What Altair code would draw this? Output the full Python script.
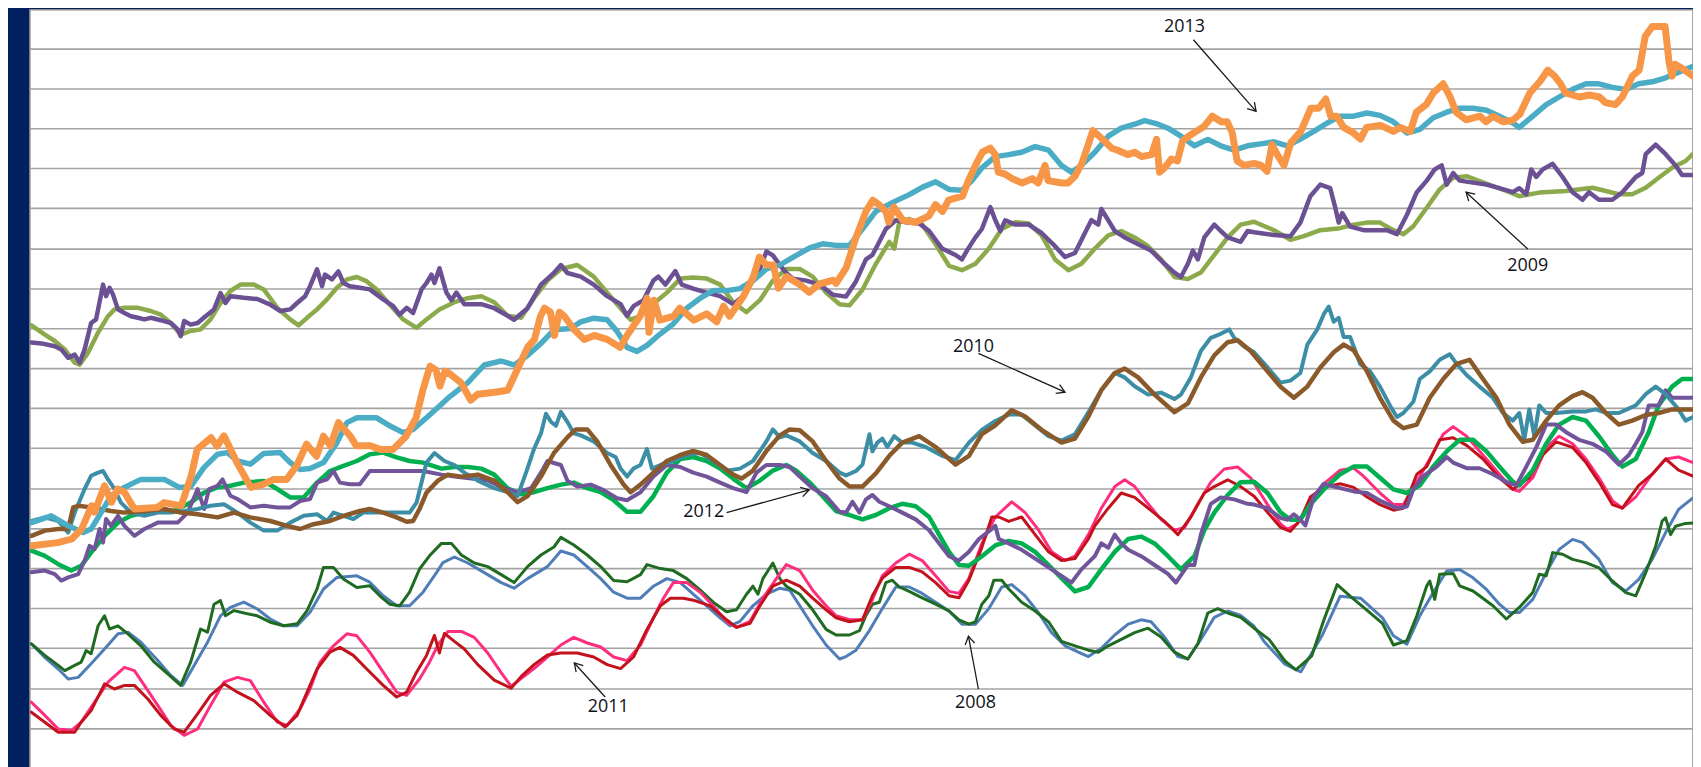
import math
import altair as alt
import pandas as pd

# ---- series data: (day, value) pairs ----
s2013_actual = [(0.4,65.6),(5.6,66.4),(8.4,67.3),(10.4,69.8),(12.4,75.6),(13,74),(15,80.6),(16.4,76.5),(17.6,79.8),(19,79),(21,74.8),(25.6,75.2),(27,76.4),(30.4,75.6),(32.4,83),(33.6,89.7),(36.4,92.6),(37.6,90.5),(39,93.1),(41.6,86.4),(44.4,80.2),(47,81),(49,82.2),(51.6,82.2),(53.6,85.6),(55.6,91),(57.6,88),(59,93),(60.4,90.6),(62,96.4),(64.4,93),(65.6,90.6),(68.4,90.6),(70.4,89.7),(73,89.7),(75.6,93),(77.6,97.6),(79,104.7),(80.4,110.5),(81.6,109.5),(82.4,105.5),(83.4,109.3),(84.6,108.4),(86.6,106.4),(88.6,102),(90,103.5),(93.4,104),(96,104.5),(98,109.8),(100,115.2),(101.4,117.2),(102.6,123),(103.4,125),(104.6,124),(105.4,118.2),(106.4,124),(107.4,123),(109.4,119.6),(111.4,117.2),(113.4,118.2),(116,117.2),(118.6,115.2),(120,118.2),(122.6,123),(124,127.5),(124.4,119),(125.4,127),(126.6,122),(129.4,123),(130.6,125),(133.4,122),(136,123.6),(138,121.6),(139.4,125.5),(140.6,123),(143.4,128),(145.4,132.9),(146.6,137.8),(148,135.8),(149.4,135.8),(150.4,130),(152,132.9),(154.6,131),(156.6,129),(158.6,131),(161.4,132),(162,131.2),(164,135),(166,142.7),(168,149.2),(169.4,152),(170.6,150.9),(172,149.2),(172.6,146.5),(173.6,150.3),(175.4,147),(178,146.5),(180.6,148),(182,150.9),(183.4,149.2),(184.6,152),(187.4,153),(188.6,156.9),(190,160.7),(191.4,164),(193,165),(194,163.4),(194.6,159),(196,158.5),(197.4,157.4),(199.4,156.3),(201.4,157.4),(202.6,156.3),(204,160.7),(204.6,156.9),(207.4,156.3),(208.6,156.3),(210,158),(211.4,161.2),(212.6,165.6),(213.6,169.4),(214.6,168.3),(216,166.7),(217.4,165),(218.6,164.5),(220.6,163.4),(222,164),(223.4,162.9),(225.4,163.4),(226.4,167.2),(227,159),(228,160.1),(229.4,162.3),(230.6,161.8),(231.6,166.7),(232.6,167.8),(234.6,169.4),(236,170.5),(237.6,173),(239.4,171.6),(240.6,171.6),(241.6,168.9),(242.6,161.8),(244,160.7),(246,161.2),(247.4,160.7),(248.6,159.2),(249.6,165.9),(250.6,163.5),(252,160.7),(253.4,166.4),(255.4,169.2),(257.4,175),(259,175),(260.4,177.3),(261.4,173),(262.6,173),(264,170.2),(266,168.8),(267.4,167.3),(268.6,170.2),(271.4,170.7),(274,169.2),(275.4,170.2),(277.4,169.2),(278.6,174),(280.6,175.9),(282,178.8),(284,181.1),(285.4,177.8),(286.6,174),(288.6,172.1),(291.4,173),(292.6,171.6),(294,173),(296,171.6),(298,172),(299.4,173.5),(301.4,178.8),(303.4,181.6),(305,184.5),(306.4,183),(307.6,181.1),(308.6,178.8),(311.4,177.8),(313.4,178.3),(315.4,177.8),(316.6,176.4),(318.6,175.9),(320,177.8),(322,183),(323.4,184.5),(324.6,193),(326,195.4),(328.6,195.4),(329.4,186.4),(330,183),(330.6,186),(332,185),(334.2,183)]

s2013_avg = [(0.3,71.4),(4.3,73.1),(7.7,70.6),(10.7,68.9),(12.3,69.8),(14.3,73.9),(16.3,78.1),(19,80.2),(22.3,82.2),(27,82.2),(30,80.2),(32.3,80.4),(35,85.2),(37.7,88.5),(39.7,88.9),(41.7,86.8),(44.3,86),(47,88.7),(50.3,88.9),(52.3,86.4),(54.3,84.7),(56.3,84.9),(59,86.4),(61.7,91.4),(63.7,96.4),(65.7,97.6),(69.7,97.6),(72.3,95.6),(75,93.9),(77,94.7),(79.7,97.6),(82.7,101),(84,102.5),(88,106.4),(91.3,110.8),(94.7,111.8),(97.3,110.8),(100,113.2),(102.7,116.2),(105.3,119.6),(108.7,119.9),(110.7,121.6),(113.3,122.5),(116,122.1),(118,119.2),(120,115.2),(122,114.2),(124,115.7),(126.7,118.6),(129.3,121.1),(132,125),(134.7,127.5),(137.3,129.4),(140,129.4),(142.7,129.9),(145.3,131.9),(148,134.8),(150.7,135.8),(153.3,137.7),(156.7,140.1),(159.3,141.1),(162,140.7),(164.7,140.7),(167.3,144.8),(170,149.2),(173.3,151.4),(176.7,153.4),(179.3,155.2),(182,156.6),(184.7,154.7),(187.3,154.5),(189.3,156.9),(191.3,160.1),(194,162.9),(196.7,163.4),(199.3,164),(202,165.4),(204.7,164.5),(207.3,160.7),(209.3,159),(211.3,160.7),(214,164),(216.7,168),(219.3,170),(222,171),(224,171.9),(226.7,171),(228.7,170),(231.3,168),(234,165.6),(236.7,167.2),(239.3,165.6),(242,164.5),(244.7,165.6),(248,166.2),(250,166.6),(252.7,165.6),(255.3,167.3),(258,169.2),(260.7,171.3),(263.3,173),(266,173),(268.7,173.8),(271.3,173.2),(274,171.6),(276.7,168.8),(279.3,169.7),(282,172.6),(284.7,174),(287.3,175),(290,175),(292.7,174.5),(295.3,173),(298,171.3),(299.3,170.2),(302,173),(304.7,175.9),(307.3,177.8),(310,179.7),(312.7,181.1),(315.3,181.1),(318,180.2),(320.7,179.7),(323.3,181.1),(326,181.6),(328.7,182.6),(331.3,184),(334.2,185.5)]

s2009_actual = [(0.3,116.4),(2.3,116.2),(5,115.5),(6.3,114.7),(7.7,112.6),(9,113.4),(10,111.4),(11,114.7),(12.3,121.3),(13.3,122.2),(14.7,130.9),(15.3,128),(16,130.1),(16.7,128.4),(17.7,124.7),(19,123.8),(20.3,123),(21.7,122.6),(23,122.2),(24.3,122.6),(26.3,122),(28.3,121.3),(29.7,119.7),(30.3,118),(31,121.8),(32.3,120.9),(33.7,121.3),(35.3,123),(37,124.7),(38.3,128.8),(39.3,126.3),(40.3,128),(43,127.6),(45.7,127.3),(48.3,125.9),(50.3,124.3),(52.3,124.7),(53.7,126.3),(55.3,128),(56.3,130.5),(57.7,134.7),(58.7,130.5),(59.3,133.4),(60.7,132.2),(62,134.2),(63,131.3),(64.3,130.5),(66.3,130.1),(68.3,129.7),(71,127.2),(73,125.5),(74.3,123.4),(75.7,125.1),(77,123.8),(78.7,129.7),(79.7,131.3),(80.7,133.4),(81.3,131.3),(82.3,135),(83.7,128.9),(84.7,127),(85.7,128.9),(87.3,126),(90.7,126),(93.3,125),(96,123.1),(97.3,122.1),(100,125),(102.7,130.9),(105.3,133.8),(106.7,135.8),(108,133.8),(110.7,132.9),(113.3,130.9),(116,128),(118.7,126),(120,123.1),(121.3,125.5),(123.3,127),(125.3,131.9),(126.3,132.9),(127.7,130.9),(129.7,134.3),(131,130.9),(133.3,129.9),(136,128.9),(138.7,128),(141.3,126),(143.3,128),(145.3,131.9),(146.7,134.8),(148,139.2),(149.3,138.2),(150.7,135.8),(152,133.8),(153.3,132.4),(156,131.9),(158.7,130.9),(161.3,128.4),(164,127.9),(166,131.7),(168,137.2),(169.3,138.3),(170.7,141.6),(172,144.8),(174,147),(176,146.5),(178.7,146.2),(180.7,144.3),(183.3,139.9),(186,138.3),(187.3,137.2),(188.3,139.4),(190,142.7),(191.3,144.8),(193,150.3),(194,147),(195,144.3),(196,147),(198,145.9),(200.7,145.9),(203.3,143.8),(206,140.5),(208,137.8),(210,138.8),(212,143.8),(213.3,147),(214.7,145.9),(215.3,149.8),(216.7,147),(218,144.3),(220,142.7),(222.7,141),(225.3,139.4),(228,136.1),(230,133.9),(231.3,132.8),(232.7,136.1),(233.7,139.4),(234.7,137.2),(236,142.7),(238,145.9),(239.3,144.3),(240.7,142.7),(243.3,141.6),(244.7,144.3),(246,144),(250,143.3),(253.3,143),(255.3,146.4),(257.3,153),(259.3,155.9),(261.3,155),(262.3,150.2),(263,146.4),(263.7,148.8),(265.3,145.4),(268,144.5),(272.7,144.5),(274.7,143.5),(276.7,148.3),(278.7,154),(280.7,156.9),(282.3,159.7),(283.7,160.7),(284.7,155.9),(286,158.8),(287.3,156.9),(290,156.4),(292.7,155.9),(295.3,155),(298,154),(299.3,155),(300.7,153.5),(301.7,159.7),(302.7,157.8),(304,159.7),(306,161.1),(308,157.8),(310,154),(312,152.1),(313.3,154),(315.3,152.1),(318,152.1),(320,154),(322.7,157.8),(324,158.8),(324.7,163.5),(326.7,165.9),(328.7,163.5),(330.7,160.7),(332,158.3),(334.2,158.3)]

s2009_avg = [(0.3,120.7),(3,118.4),(5,116.8),(7,114.7),(9,111.4),(10,110.9),(11.7,113.9),(13.7,118.9),(15.7,123),(17,124.7),(19,125.1),(21.7,125.1),(24.3,124.3),(26.3,123.4),(28.3,121.3),(30.3,118.4),(32.3,119.3),(34.3,119.7),(36.3,122.2),(38.3,126.3),(40.3,129.3),(42.3,130.9),(45,130.9),(47,129.7),(49.7,125.1),(52.3,122.2),(54,120.7),(55.7,122.6),(57.7,124.7),(59.7,127.2),(61.7,130.1),(63.7,132.2),(65.7,132.8),(67.7,131.7),(69.7,129.7),(72.3,125.9),(75,122.2),(77.7,120.1),(79.7,122.2),(82.3,124.7),(85.3,126.5),(88,127.5),(90.7,128),(93.3,126.5),(96,123.1),(98.7,122.6),(101.3,127.5),(104,131.9),(106.7,134.8),(110,135.8),(113.3,132.9),(116,128.9),(118.7,125),(120.7,122.1),(122.7,123.1),(124.7,125.5),(128,128.9),(130.7,132.4),(133.3,132.7),(136,132.4),(138.7,130.9),(141.3,126.5),(144,124),(146.7,127),(149.3,131.9),(152,134.8),(154.7,134.8),(157.3,132.9),(160,128.9),(162.7,126),(164.7,125.7),(167.3,129.6),(170,136.1),(172.7,141.6),(173.7,139.9),(174.7,146.5),(176.7,147.3),(179.3,145.9),(182,141),(184.7,135.6),(187.3,134.5),(190,136.1),(192.7,139.9),(195.3,144.8),(198,146.5),(200.7,146.2),(203.3,143.2),(206,137.2),(208.7,134.5),(211.3,136.1),(214,139.9),(216.7,143.2),(219.3,144.3),(222,142.7),(224.7,140.5),(227.3,137.2),(230,132.8),(232.7,132.3),(235.3,133.9),(238,138.3),(240.7,142.7),(243.3,145.9),(246,146.6),(250,144.5),(253.3,142.1),(256,143),(259.3,144.5),(263.3,145),(266,145.9),(268.7,146.4),(271.3,146.4),(274,144.5),(276,143.5),(278,145.5),(280.7,150.1),(283.3,154.7),(286,157.6),(288.7,158),(291.3,156.8),(294,155.5),(296.7,154.3),(299.3,153),(303.3,153.9),(308.7,154.3),(314,155.1),(319.3,153.5),(322,153.5),(324.7,155.1),(327.3,157.6),(330,160.1),(332.7,161.8),(334.2,163.6)]

s2010_actual = [(0.3,71.8),(3,72.7),(5.7,71.8),(7.7,68.9),(9,73.9),(11,79.8),(12.3,83.1),(13.7,83.9),(14.7,84.3),(15.7,82.2),(17,79.8),(18.3,76.4),(20.3,73.9),(23,73.1),(25.7,73.9),(28.3,73.9),(31,74.3),(33.7,74.8),(36.3,75.6),(39,76),(41.7,73.9),(44.3,71.4),(47,69.4),(49.7,69.4),(52.3,71.4),(55,73.1),(57.7,73.5),(59.7,71.8),(61,73.9),(63,73.1),(65,72.3),(67,73.9),(69.7,73.9),(72.3,73.9),(76.3,73.9),(77.7,76.4),(78.7,81.4),(79.7,86.4),(81.3,88.8),(83.3,86.8),(85.3,85.8),(87.3,83.9),(90,81.9),(93.3,80),(96,79),(98,78),(99.7,83.9),(101.3,89.8),(102.7,93.7),(103.7,98.6),(104.7,96.6),(105.7,95.6),(106.7,99.1),(108,96.6),(109.3,93.7),(110.7,93.2),(113.3,91.7),(116,88.8),(117.7,87.8),(118.7,84.9),(120,82.9),(121.3,84.9),(122.7,85.8),(124,89.8),(125,84.9),(126.7,85.8),(129.3,86.8),(132,88.3),(134.7,88.8),(137.3,86.8),(140,84.4),(142.7,84.9),(145.3,86.8),(148,91.7),(149.3,94.7),(150.7,92.7),(152,93.2),(154.7,91.7),(157.3,88.8),(160,86.8),(162.7,83.9),(164,83.2),(166,84.3),(167.3,85.9),(168.7,93.5),(169.3,89.2),(170.3,91.4),(171.3,92.4),(172.3,90.3),(173.7,93),(175.3,91.4),(177.3,91.4),(180,90.3),(183.3,88.1),(186,87),(188.7,91.4),(191.3,94.6),(194,96.8),(196.7,98.4),(199.3,98.4),(202,95.7),(204.7,93),(207.3,91.9),(210,93.5),(212.7,99),(215.3,104.5),(218,108.8),(220,107.7),(222,105.5),(224.7,103.4),(227.3,103.9),(230,102.3),(231.3,103.4),(233.3,107.7),(235.3,114.3),(237.3,117.6),(239.3,118.6),(241,119.7),(242,117.6),(244,115.4),(246,114),(248.7,110.2),(251.3,106.4),(253.3,106.9),(255.3,108.8),(256.7,115.9),(258.7,119.7),(260,123.5),(261,125.4),(262,121.6),(263,122.6),(264,117.8),(265.3,117.8),(267.3,111.1),(269.3,109.2),(271.3,105.4),(273.3,100.7),(274.7,97.8),(276,98.8),(278,101.6),(279.3,107.3),(281.3,109.2),(283.3,112.1),(285.3,113.5),(286.7,111.1),(288.7,108.3),(291.3,105.4),(294,102.6),(296,98.8),(298,96.9),(299.3,98.8),(300.3,92.1),(301.3,99.7),(302.3,93.1),(303.3,100.7),(304.7,98.8),(306.7,98.8),(310,99.2),(312.7,99.2),(314.7,99.7),(316.7,98.8),(319.3,98.8),(322.7,100.7),(324.7,103.5),(326.7,105.4),(328.7,103.5),(331.3,99.7),(332.7,96.9),(334.2,97.8)]

s2010_avg = [(0.3,68.1),(3,69.4),(5.7,69.8),(7.7,69.8),(8.7,75.2),(9.7,75.6),(12.3,75.2),(16.3,74.3),(19,73.9),(23,74.3),(27,74.8),(30.3,73.9),(33.7,73.5),(37.7,72.7),(41,73.9),(44.3,72.7),(48.3,71.8),(51.7,70.6),(54.3,69.8),(57,71),(60.3,71.8),(63,73.1),(66.3,74.3),(68.3,74.8),(71,73.9),(73.7,72.7),(75.7,71.6),(77,71.8),(78.3,74.8),(79.7,78.9),(82,81.9),(84,83.4),(86.7,82.9),(90,83.4),(93.3,81.9),(96,79),(98,76.5),(100,78),(102.7,82.9),(105.3,88.8),(108,92.7),(109.7,94.7),(112,94.7),(114,91.7),(116.7,85.8),(119.3,80.9),(120.7,79),(122.7,80.9),(125.3,83.9),(128,86.8),(130.7,88.3),(133.3,89.3),(136,88.3),(138.7,85.8),(141.3,83.4),(143,82.4),(145.3,84.4),(148,89.3),(150.7,93.2),(152.7,94.7),(154.7,94.5),(157.3,91.7),(160,86.8),(162.7,82.4),(164.7,80.4),(167.3,80.4),(170,83.7),(172.7,88.1),(175.3,91.4),(178.7,93),(182,90.3),(186,85.9),(188.7,88.1),(191.3,93.5),(194,95.7),(197.3,99.5),(200,97.9),(203.3,94.6),(207.3,91.4),(210,92.4),(212.7,97.9),(215.3,104.5),(218,108.8),(220,109.9),(222.7,107.7),(226,103.4),(230,99),(232.7,101.2),(235.3,107.7),(238,113.2),(240.7,116.5),(242.7,117),(245.3,114.3),(248.7,109.2),(251.3,105.4),(254,102.6),(256.7,105.4),(259.3,110.2),(262,114),(264,115.9),(266,114.5),(268.7,109.2),(271.3,102.6),(274,96.9),(276,95),(278.7,95.9),(281.3,102.6),(284,107.3),(286.7,111.1),(289.3,112.1),(292,107.3),(294.7,102.6),(297.3,95.9),(300,91.6),(302,92.1),(304.7,96.9),(307.3,100.7),(310,103),(312,104),(314,102.6),(316.7,98.8),(319.3,95.9),(322,96.9),(324.7,98.3),(327.3,98.8),(330,99.7),(334.2,99.7)]

s2012_avg = [(0.3,64.4),(3,63.1),(5.7,61),(8.3,59.4),(10.3,60.6),(12.3,63.9),(15,68.1),(17.7,71.4),(20.3,73.1),(23,73.9),(25.7,74.8),(29,74.3),(32.3,76.4),(35,78.9),(37.7,80.2),(40.3,80.6),(43,81.4),(47,81.8),(49.7,79.8),(52.3,77.7),(55,77.7),(57.7,81.4),(60.3,84.3),(63,85.6),(65.7,86.8),(68.3,88.5),(71,88.9),(73.7,87.7),(76.3,86.8),(79,86.4),(82.7,84.9),(85.3,85.3),(88,85.3),(90.7,84.9),(93.3,83.4),(96,80),(98.7,78.5),(101.3,79),(104,80),(106.7,80.9),(109.3,81.4),(112,80),(114.7,79),(117.3,77),(120,74.1),(122.7,74.1),(125.3,78),(128,83.9),(130.7,87.3),(133.3,87.8),(136,86.8),(138.7,84.9),(141.3,82.4),(144,80),(146.7,81.9),(149.3,84.4),(152,85.8),(154,84.4),(156.7,81.4),(159.3,78),(162,74.3),(164.7,73.3),(167.3,72.2),(170,73.3),(172.7,75),(175.3,76.1),(178,75.5),(180.7,72.8),(182.7,68.4),(184.7,64.1),(186.7,60.8),(188.7,60.6),(191.3,63),(194,65.7),(196.7,66.8),(199.3,66.2),(202,64.1),(204.7,60.8),(207.3,57.5),(210,54.2),(212.7,55.3),(215.3,59.7),(218,64.1),(220.7,67.3),(223.3,67.9),(226,66.2),(228.7,63),(231.3,59.7),(234,63),(236,69.5),(238,73.9),(240.7,78.3),(243.3,81.5),(246,81.6),(248.7,78.8),(251.3,74),(253.3,72.1),(255.3,72.1),(257.3,75.9),(260,79.7),(263.3,83.5),(266,85.4),(268.7,85.4),(271.3,82.6),(274,79.7),(276.7,78.8),(279.3,80.7),(282,85.4),(284.7,89.2),(287.3,92.1),(290,92.1),(292.7,89.2),(295.3,85.4),(298,81.6),(299.3,80.7),(302,84.5),(304.7,91.1),(307.3,95.9),(310,97.8),(312.7,96.9),(315.3,93),(318,88.3),(320,85.4),(322.7,87.3),(325.3,94),(327.3,100.7),(330,105.4),(332,107.3),(334.2,107.3)]

s2012_actual = [(0.3,59),(3,59.4),(5,58.5),(6.3,56.9),(7.7,57.7),(9.7,58.5),(11,61.9),(12,65.6),(13,64.8),(14,69.8),(14.7,66.4),(15.3,72.3),(16.3,70.6),(17.7,73.1),(19,70.6),(21,68.1),(23,69.8),(25.7,71.4),(28.3,71.4),(29.7,71.4),(31.7,73.9),(33.7,79.8),(35,74.8),(36,79.8),(37.7,80.6),(38.7,82.2),(40.3,78.1),(41.7,77.3),(44.3,75.2),(47,75.6),(49.7,75.2),(52.3,75.2),(54.3,76.8),(56.3,77.3),(57.7,81.4),(59.7,82.2),(61,84.3),(62.3,81.4),(64.3,81),(66.3,81),(68.3,84.3),(71,84.3),(75,84.3),(79,84.3),(82.7,83.4),(85.3,82.9),(88.7,82.4),(92,81.9),(95.3,80),(98,79),(100.7,80),(102.7,83.9),(104,86.8),(105.3,86.3),(106.7,85.8),(108,81.9),(110,80.4),(112.7,80.9),(115.3,79.5),(118,77.5),(120,77),(122.7,79),(125.3,82.9),(128,85.8),(130.7,85.3),(133.3,83.9),(136,82.9),(138.7,81.4),(141.3,80),(144,79),(146,83.9),(148,85.8),(150.7,85.8),(152.7,85.3),(154.7,82.9),(157.3,80),(160,78),(162.7,74.1),(164,73.9),(165.3,76.6),(166.7,73.9),(168,77.2),(169.3,78.3),(170.7,76.6),(172.7,75.5),(175.3,73.9),(178,72.2),(180.7,69.5),(182.7,66.2),(184.7,63),(186.7,61.9),(188.7,64.1),(190.7,67.3),(193,69.5),(194,70.6),(194.7,67.3),(196.7,66.2),(199.3,64.6),(202,62.4),(204.7,60.2),(207.3,58.1),(209.3,56.4),(211.3,59.7),(214,63),(215.3,66.2),(216.7,65.1),(218,68.4),(219.3,66.2),(220.7,64.6),(223.3,63),(226,60.8),(228.7,58.6),(230.3,56.4),(232.7,60.8),(234,60.8),(235.3,68.4),(237.3,76.1),(239.3,77.7),(242,77.2),(244.7,76.1),(246,75.9),(248.7,75),(251.3,72.6),(252.7,72.1),(254,73.5),(255.3,72.1),(256.3,70.7),(258,77.8),(260,81.1),(262.7,80.2),(266,79.2),(268.7,78.8),(271.3,76.9),(274.7,75),(276.7,75.4),(278,79.7),(280,83),(282.7,85.4),(284.7,87.8),(286,86.4),(288.7,85),(291.3,85),(294,83.5),(296.7,81.6),(298.7,80.7),(300.7,85.4),(302.7,90.2),(304.7,95.9),(306.7,95.9),(308.7,94),(311.3,92.1),(314,91.1),(316.7,89.2),(319.3,85.9),(321.3,88.3),(322.7,91.1),(324,94),(325.3,100.7),(327.3,100.7),(328.7,104.5),(330,102.6),(332,102.6),(334.2,102.6)]

s2011_avg = [(0.3,26.5),(3,23.2),(5.7,19.8),(8.3,19.4),(10.3,21.5),(13,26.5),(15.7,31.5),(19,35.2),(21,34.4),(23,30.7),(25.7,25.7),(28.3,20.7),(31,18.2),(33.7,19.8),(36.3,25.7),(39,31.5),(41.7,32.7),(44.3,31.9),(47,26.5),(49.7,21.5),(51.7,20.7),(54.3,24.8),(56.3,29.8),(58.3,36.5),(61,40.6),(63.7,43.6),(65.7,43.1),(68.3,39),(71,34),(73.7,29),(75.7,28.2),(78.3,32.3),(80.3,36.5),(82,40.8),(84,44.2),(86.7,44.2),(89.3,42.7),(92,38.8),(94.7,33.9),(96.7,30.5),(98.7,32.4),(101.3,34.9),(104,37.8),(106.7,40.8),(109.3,42.7),(112,41.3),(114.7,40.3),(117.3,37.8),(120,36.9),(122.7,40.8),(125.3,47.6),(127.3,52.5),(129.3,56.4),(132,56.4),(134.7,54),(137.3,50.6),(140,46.7),(142,45.2),(144.7,46.7),(147.3,52.5),(150,57.4),(152,60.9),(154.7,59.4),(157.3,54.5),(160,50.6),(162,48.1),(164.7,47.1),(167.3,47.1),(169.3,52.1),(171.3,58.1),(174,61.3),(176.7,63.5),(179.3,61.9),(182,58.1),(184.7,54.2),(186.7,53.7),(188.7,57.5),(191.3,66.2),(194,72.8),(197.3,76.6),(200,73.9),(202.7,69.5),(205.3,64.1),(208,61.9),(210,63),(212.7,68.4),(215.3,75),(218,80.4),(220,82.1),(222,80.4),(224.7,76.1),(227.3,72.2),(230,69.5),(232,70.1),(234.7,76.1),(237.3,81.5),(240,84.8),(242.7,85.3),(245.3,82.6),(248.7,75.9),(251.3,71.1),(252.7,69.7),(254.7,71.1),(257.3,76.9),(260,81.1),(263.3,84.5),(266,85),(268,83),(271.3,78.8),(274,75.9),(276,75.9),(278.7,81.6),(281.3,87.3),(284,93.5),(286,95.4),(288.7,93),(292,88.3),(295.3,83.5),(298,79.7),(299.3,79.2),(302,82.6),(304.7,90.2),(307.3,93),(310,91.1),(312.7,87.3),(315.3,82.6),(318,76.9),(320,75),(322.7,77.8),(326,83.5),(328.7,87.3),(331.3,87.8),(334.2,86.4)]

s2011_actual = [(0.3,24),(3,21.5),(5.7,19),(9,19),(10.3,21.5),(12.3,24.4),(15,31.1),(17,29.8),(19,30.7),(21,30.7),(23.7,27.3),(26.3,23.2),(29,19.8),(31,19),(33.7,23.6),(36.3,28.2),(39,31.1),(41.7,29),(45,26.9),(48.3,23.2),(51.3,20.3),(53.7,23.2),(55.7,29),(57.7,34.8),(60.3,39),(62.3,40.2),(65,38.2),(67.7,34.8),(71,30.7),(73.7,27.8),(75.7,29),(77.7,34),(79.7,38.2),(81.3,43.2),(82.3,38.8),(83.3,43.7),(85.3,41.7),(87.3,39.8),(90,35.9),(93.3,32),(96.7,30),(98.7,32.9),(101.3,35.9),(104,38.3),(106.7,38.8),(110,38.8),(113.3,37.8),(116,35.9),(118.7,34.9),(121.3,37.8),(124,44.7),(126.7,50.6),(128.7,52.5),(131.3,52.5),(133.3,52),(136.7,50.6),(140,47.1),(142,45.2),(144.7,46.2),(146.7,50.6),(149.3,55.5),(152,57),(154.7,55.5),(157.3,52.5),(160,49.6),(162,47.6),(164.7,46.6),(167.3,47.1),(169.3,53.1),(171.3,57.5),(174,60.2),(176.7,60.2),(179.3,59.1),(182,56.4),(184.7,53.1),(186.7,52.6),(188.7,57),(191.3,65.2),(193.3,72.8),(194.7,72.8),(196.7,71.7),(199.3,72.8),(202,68.4),(204.7,64.1),(207.3,61.9),(210,62.4),(212.7,67.3),(214,70.6),(216.7,75),(219.3,78.8),(222,77.7),(224.7,75),(228,71.7),(230.7,68.4),(233.3,72.8),(236,78.8),(238,80.4),(240.7,82.1),(243.3,80.4),(246,78),(248.7,74),(251.3,70.2),(253.3,69.2),(255.3,72.1),(257.3,77.8),(260,80.2),(263.3,81.1),(266,80.2),(268.7,77.8),(271.3,75.9),(274,74.5),(276,75),(278.7,83.5),(280.7,85.4),(283.3,92.1),(286,92.6),(288.7,90.7),(292,87.3),(295.3,82.6),(298,79.7),(301.3,82.6),(304,88.3),(306.7,91.6),(310,90.2),(312.7,86.4),(315.3,81.6),(318,75.9),(320,75),(323.3,80.7),(326,83.5),(328.7,87.3),(331.3,84.5),(334.2,83)]

s2008_actual = [(0.3,41.1),(3,38.2),(5.7,35.7),(7,34.4),(9,35.7),(10.3,36.5),(11.3,39.4),(12.3,38.6),(13.7,45.6),(15,48.1),(16,44.8),(17.7,45.6),(19.7,43.6),(22.3,40.6),(25,36.5),(27.7,33.6),(30.3,30.7),(32.3,36.5),(34.3,44.8),(35.7,44),(37,51),(38.3,51.9),(39.3,48.1),(41,49.4),(43.7,48.6),(45.7,48.1),(48.3,46.5),(51,45.6),(53.7,46.1),(55.7,49.4),(57.7,54.8),(59,60.2),(61,60.2),(63,57.3),(65.7,55.2),(68.3,55.6),(70.3,53.1),(72.3,51),(74.3,50.6),(76.3,54),(78.3,59.8),(80.3,63.1),(82.7,66.2),(84.7,66.2),(86.7,63.3),(89.3,61.3),(92,60.4),(94.7,58.4),(97.3,56.4),(100,60.4),(102.7,63.3),(105.3,65.3),(106.7,67.7),(109.3,65.8),(112,63.3),(114.7,60.4),(117.3,56.9),(120,56.6),(122.7,58.4),(124,60.9),(126.7,59.9),(129.3,59.4),(132,57.4),(134.7,54.5),(137.3,51.5),(140,49.1),(142,49.6),(144,53.5),(145.3,55.5),(146.3,53.5),(147.3,57.4),(149.3,61.3),(150.7,57.4),(152,55.5),(154.7,53.5),(157.3,49.6),(160,44.7),(162,43.3),(164.7,43.3),(166.7,44.4),(168,48.2),(169.3,51),(170.7,51.5),(172,56.4),(173.3,57),(174.7,55.3),(176.7,54.2),(179.3,52.6),(182,51),(184.7,49.3),(186.7,47.1),(188.7,46),(190,46.6),(191.3,51),(192.7,53.1),(193.7,57),(195.3,57),(196.7,54.8),(199.3,51.5),(202,49.3),(204.7,46.6),(207.3,41.7),(210,40.6),(212.7,39.5),(214.7,39),(216.7,40.6),(219.3,42.2),(222,43.9),(224.7,45),(227.3,42.8),(230,39),(232.7,37.3),(234.7,41.1),(236.7,48.8),(238.7,49.9),(240.7,48.8),(243.3,47.7),(246,45),(249,42.2),(252.2,36.8),(254.4,34.6),(257.6,38.1),(260,47),(262.7,55.9),(265.3,53),(268,50.2),(271.8,46.2),(274,40.8),(276.7,41.9),(278.7,48.1),(280.7,55.6),(281.3,56.8),(282.3,52.2),(283.3,58.5),(286,58.7),(287.3,55.6),(290,54.3),(294,50.6),(296.7,47.3),(299.3,50.2),(302,53.9),(303.3,58.5),(304.7,58.1),(306,63.9),(308,63.5),(310,62.2),(312.7,61.4),(315.3,60.1),(318,56.8),(320.7,53.9),(322.7,53.1),(324.7,58.9),(326.7,65.5),(328,71.8),(328.7,72.6),(329.7,68.4),(330.7,70.5),(332.7,71.2),(334.2,71.3)]

s2008_avg = [(0.3,41.1),(3,37.7),(5.7,34.8),(7.7,32.3),(9.7,32.7),(12.3,36.1),(15,39.8),(17.7,43.6),(19.7,44),(22.3,41.5),(25.7,36.9),(28.3,33.2),(30.7,30.7),(33,35.7),(35.7,41.5),(38.3,48.1),(40.3,50.2),(43,51.5),(45.7,49.8),(48.3,47.3),(51,45.6),(53.7,45.6),(56.3,49),(59,54.8),(61.7,57.7),(65.7,58.1),(68.3,56.5),(71,53.1),(73.7,50.6),(76.3,50.6),(79,54),(81.7,58.9),(83,61.4),(85.3,62.8),(88,61.3),(91.3,58.9),(94.7,56.4),(97.3,55),(100,57.4),(104,60.4),(106.7,64.3),(109.3,63.3),(112,60.4),(114.7,57.4),(117.3,54),(120,52.5),(122.7,52.5),(125.3,55.5),(128,57.4),(130.7,56.4),(133.3,53.5),(136,50.6),(138.7,47.6),(140.7,45.6),(142.7,46.7),(145.3,50.6),(148,53.5),(150.7,55),(152.7,54.5),(154.7,50.6),(157.3,45.6),(160,40.8),(162.7,37.3),(164,37.9),(166,39.5),(168.7,44.4),(171.3,49.9),(174,55.3),(176.7,55.3),(179.3,53.7),(182,51.5),(184.7,49.3),(187.3,46),(190,46),(192.7,49.9),(195.3,55.3),(197.3,55.9),(200,53.1),(202.7,48.8),(205.3,43.9),(208,40.6),(210.7,39),(212.7,37.9),(215.3,40),(218,43.3),(220.7,46),(223.3,47.1),(225.3,46.6),(228,42.8),(230.7,37.9),(232.7,37.3),(235.3,42.2),(238,47.7),(240.7,49.3),(243.3,48.2),(246,45.5),(248,41.7),(252.2,36),(255.4,34.1),(259.8,43.5),(263.3,53),(267.4,52.5),(271.8,47.6),(274,43.1),(276.7,41),(279.3,48.1),(282,53.9),(284.7,59.3),(287.3,59.7),(290,57.6),(292.7,54.7),(295.3,51),(297.3,48.9),(299.3,48.9),(302,52.2),(304.7,58.9),(307.3,64.7),(310,67.2),(312,66.4),(315.3,62.2),(318,56.4),(320.7,54.3),(323.3,57.2),(326,62.2),(328.7,68.9),(331.3,74.7),(334.2,77.6)]

# annotations: label, text position, arrow start, arrow end (data units)
ann_labels = ["2013", "2009", "2010", "2012", "2011", "2008"]
ann_text_x = [232.0, 301.0, 189.6, 135.4, 116.2, 190.0]
ann_text_y = [195.4, 135.6, 115.4, 74.1, 25.3, 26.3]
ann_from_x = [233.8, 301.0, 190.6, 140.0, 115.6, 190.6]
ann_from_y = [192.1, 139.8, 113.7, 73.9, 27.8, 29.8]
ann_to_x = [246.4, 288.6, 208.0, 156.6, 109.4, 188.6]
ann_to_y = [174.2, 154.0, 104.0, 79.6, 36.3, 43.0]

# ---- styling (drawing order bottom -> top) ----
series = [
    ("2008 avg", s2008_avg, "#4F7DB8", 3),
    ("2008", s2008_actual, "#1F6B21", 3),
    ("2011 avg", s2011_avg, "#FF2D7E", 3),
    ("2011", s2011_actual, "#C3121C", 3),
    ("2012 avg", s2012_avg, "#00B050", 4.5),
    ("2012", s2012_actual, "#70559A", 4),
    ("2010", s2010_actual, "#3B8EA5", 4),
    ("2010 avg", s2010_avg, "#8B5A2B", 4.5),
    ("2009 avg", s2009_avg, "#8CAA4B", 4.5),
    ("2009", s2009_actual, "#6B5193", 4.5),
    ("2013 avg", s2013_avg, "#4BACC6", 5.5),
    ("2013", s2013_actual, "#F79646", 7),
]

PLOT_W, PLOT_H = 1671, 762
X_MAX = 334.2
Y_MIN, Y_MAX = 10, 199.6

xscale = alt.Scale(domain=[0, X_MAX], nice=False, zero=False)
yscale = alt.Scale(domain=[Y_MIN, Y_MAX], nice=False, zero=False)
yaxis = alt.Axis(values=list(range(20, 200, 10)), grid=True, labels=False, ticks=False,
                 domain=False, title=None, gridColor="#A3A3A3", gridWidth=1.6)

layers = []
for name, pts, color, width in series:
    df = pd.DataFrame(pts, columns=["day", "value"])
    df["series"] = name
    layers.append(
        alt.Chart(df).mark_line(color=color, strokeWidth=width, clip=True,
                                strokeJoin="round", strokeCap="round").encode(
            x=alt.X("day:Q", scale=xscale, axis=None),
            y=alt.Y("value:Q", scale=yscale, axis=yaxis),
        )
    )

px_per_x = PLOT_W / X_MAX
px_per_y = PLOT_H / (Y_MAX - Y_MIN)
angles = []
for fx, fy, tx, ty in zip(ann_from_x, ann_from_y, ann_to_x, ann_to_y):
    dx = (tx - fx) * px_per_x
    dy = -(ty - fy) * px_per_y
    angles.append(math.degrees(math.atan2(dy, dx)) % 360)

ann = pd.DataFrame({
    "label": ann_labels, "tx": ann_text_x, "ty": ann_text_y,
    "fx": ann_from_x, "fy": ann_from_y, "ex": ann_to_x, "ey": ann_to_y,
    "ang": angles,
})

arrow_lines = alt.Chart(ann).mark_rule(color="#1a1a1a", strokeWidth=1.3).encode(
    x=alt.X("fx:Q", scale=xscale, axis=None), y=alt.Y("fy:Q", scale=yscale, axis=yaxis),
    x2="ex:Q", y2="ey:Q",
)
arrow_heads = alt.Chart(ann).mark_point(
    shape="M-1,-0.6L0,0L-1,0.6", filled=False, size=260, color="#1a1a1a",
    strokeWidth=1.3, opacity=1,
).encode(
    x=alt.X("ex:Q", scale=xscale, axis=None), y=alt.Y("ey:Q", scale=yscale, axis=yaxis),
    angle=alt.Angle("ang:Q", scale=None),
)
labels = alt.Chart(ann).mark_text(
    font="Open Sans", fontSize=18, color="#101018", align="center", baseline="middle",
).encode(
    x=alt.X("tx:Q", scale=xscale, axis=None), y=alt.Y("ty:Q", scale=yscale, axis=yaxis),
    text="label:N",
)

chart = alt.layer(*layers, arrow_lines, arrow_heads, labels).properties(
    width=PLOT_W, height=PLOT_H,
    padding={"left": 22, "top": 0, "right": 0, "bottom": 0},
    autosize=alt.AutoSizeParams(type="none"),
    background="#002060",
).configure_view(fill="white", stroke="#8C8C8C", strokeWidth=1.5)

chart.save("out.html", embed_options={"renderer": "svg", "actions": False})
